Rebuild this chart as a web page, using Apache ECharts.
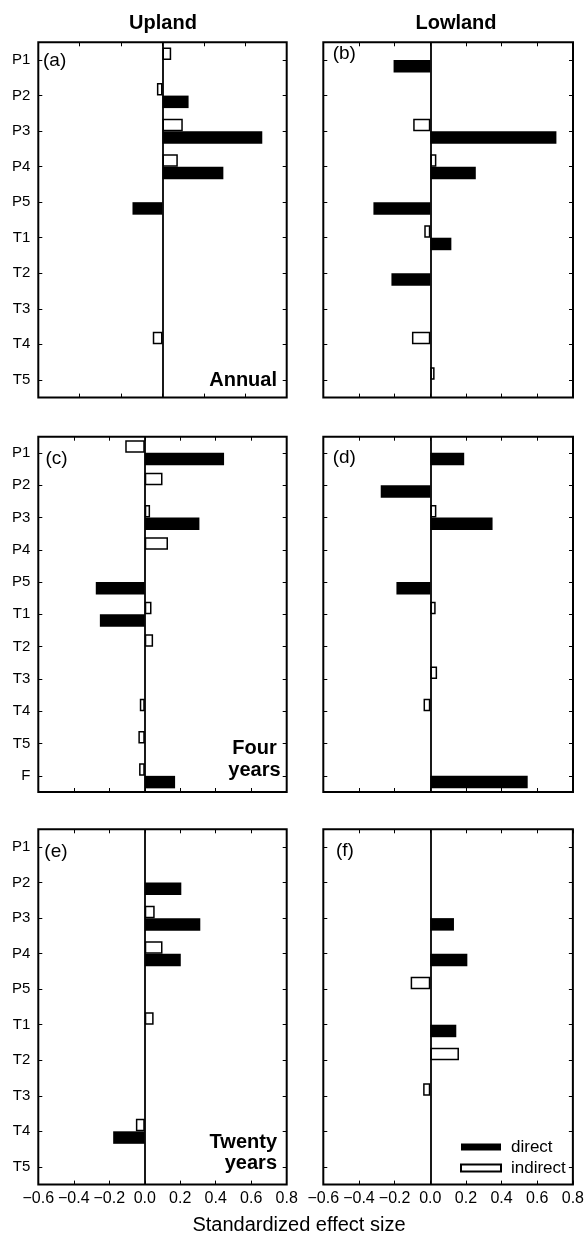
<!DOCTYPE html>
<html>
<head>
<meta charset="utf-8">
<script src="https://cdn.jsdelivr.net/npm/echarts@6/dist/echarts.min.js"></script>
<style>
  html, body { margin: 0; padding: 0; background: #fff; }
  #chart { width: 587px; height: 1235px; }
</style>
</head>
<body>
<div id="chart"></div>
<script>
// categories
const catsShort = ['P1', 'P2', 'P3', 'P4', 'P5', 'T1', 'T2', 'T3', 'T4', 'T5'];
const catsLong = ['P1', 'P2', 'P3', 'P4', 'P5', 'T1', 'T2', 'T3', 'T4', 'T5', 'F'];

// x axis ranges (ticks every 0.2)
const rangeNarrow = [-0.6, 0.6];
const rangeWide = [-0.6, 0.8];
const tickStep = 0.2;

// (a) upland, annual
const upAnnualIndirect = [0.042, -0.027, 0.098, 0.074, null, null, null, null, -0.047, null];
const upAnnualDirect   = [null, 0.126, 0.482, 0.294, -0.145, null, null, null, null, null];
// (b) lowland, annual
const lowAnnualIndirect = [null, null, -0.096, 0.034, null, -0.034, null, null, -0.103, 0.024];
const lowAnnualDirect   = [-0.206, null, 0.707, 0.255, -0.319, 0.118, -0.218, null, null, null];
// (c) upland, four years
const upFourIndirect = [-0.11, 0.10, 0.03, 0.131, null, 0.038, 0.047, null, -0.028, -0.036, -0.032];
const upFourDirect   = [0.447, null, 0.308, null, -0.276, -0.253, null, null, null, null, 0.171];
// (d) lowland, four years
const lowFourIndirect = [null, null, 0.034, null, null, 0.03, null, 0.038, -0.038, null, null];
const lowFourDirect   = [0.19, -0.278, 0.349, null, -0.19, null, null, null, null, null, 0.546];
// (e) upland, twenty years
const upTwentyIndirect = [null, null, 0.056, 0.10, null, 0.05, null, null, -0.05, null];
const upTwentyDirect   = [null, 0.206, 0.313, 0.203, null, null, null, null, -0.178, null];
// (f) lowland, twenty years
const lowTwentyIndirect = [null, null, null, null, -0.11, null, 0.161, -0.04, null, null];
const lowTwentyDirect   = [null, null, 0.133, 0.208, null, 0.146, null, null, null, null];

const FONT = '"Liberation Sans", Arial, sans-serif';

const LEFT_X = 38.3, LEFT_W = 248.4;
const RIGHT_X = 323.3, RIGHT_W = 249.7;
const ROW_H = 355.3;

const panels = [
  { cats: catsShort, ind: upAnnualIndirect, dir: upAnnualDirect, range: rangeNarrow,
    left: LEFT_X, width: LEFT_W, top: 42.3, letter: '(a)', lx: 43, ly: 62.5, yLabels: true, xLabels: false },
  { cats: catsShort, ind: lowAnnualIndirect, dir: lowAnnualDirect, range: rangeWide,
    left: RIGHT_X, width: RIGHT_W, top: 42.3, letter: '(b)', lx: 332.7, ly: 55, yLabels: false, xLabels: false },
  { cats: catsLong, ind: upFourIndirect, dir: upFourDirect, range: rangeWide,
    left: LEFT_X, width: LEFT_W, top: 436.7, letter: '(c)', lx: 45.5, ly: 460, yLabels: true, xLabels: false },
  { cats: catsLong, ind: lowFourIndirect, dir: lowFourDirect, range: rangeWide,
    left: RIGHT_X, width: RIGHT_W, top: 436.7, letter: '(d)', lx: 332.7, ly: 459, yLabels: false, xLabels: false },
  { cats: catsShort, ind: upTwentyIndirect, dir: upTwentyDirect, range: rangeWide,
    left: LEFT_X, width: LEFT_W, top: 829.3, letter: '(e)', lx: 44.3, ly: 853, yLabels: true, xLabels: true },
  { cats: catsShort, ind: lowTwentyIndirect, dir: lowTwentyDirect, range: rangeWide,
    left: RIGHT_X, width: RIGHT_W, top: 829.3, letter: '(f)', lx: 336, ly: 852.5, yLabels: false, xLabels: true }
];

const grid = [], xAxis = [], yAxis = [], series = [], graphic = [];
const tick = { show: true, inside: true, length: 4, lineStyle: { color: '#000', width: 1 } };

panels.forEach((p, i) => {
  grid.push({ left: p.left, top: p.top, width: p.width, height: ROW_H,
    show: true, borderColor: '#000', borderWidth: 2, backgroundColor: 'transparent' });

  const xBase = { gridIndex: i, type: 'value', min: p.range[0], max: p.range[1], interval: tickStep,
    axisLine: { show: false }, axisTick: tick, splitLine: { show: false } };
  xAxis.push(Object.assign({}, xBase, {
    position: 'bottom',
    axisLabel: { show: p.xLabels, color: '#000', fontSize: 16, fontFamily: FONT, margin: 6,
      formatter: v => v.toFixed(1).replace('-', '\u2212') }
  }));
  xAxis.push(Object.assign({}, xBase, { position: 'top', axisLabel: { show: false } }));

  const yBase = { gridIndex: i, type: 'category', data: p.cats, inverse: true,
    axisLine: { show: false, onZero: false },
    axisTick: Object.assign({ alignWithLabel: true }, tick), splitLine: { show: false } };
  yAxis.push(Object.assign({}, yBase, {
    position: 'left',
    axisLabel: { show: p.yLabels, color: '#000', fontSize: 15, fontFamily: FONT, margin: 8 }
  }));
  yAxis.push(Object.assign({}, yBase, { position: 'right', axisLabel: { show: false } }));

  series.push({
    name: 'indirect', type: 'bar', xAxisIndex: 2 * i, yAxisIndex: 2 * i,
    data: p.ind, barWidth: 12.5, barGap: '0%',
    itemStyle: { color: '#fff', borderColor: '#000', borderWidth: 1.5 }
  });
  series.push({
    name: 'direct', type: 'bar', xAxisIndex: 2 * i, yAxisIndex: 2 * i,
    data: p.dir, barWidth: 12.5, barGap: '0%',
    itemStyle: { color: '#000' },
    markLine: { silent: true, symbol: 'none', label: { show: false },
      lineStyle: { color: '#000', width: 1.8, type: 'solid' }, data: [{ xAxis: 0 }] }
  });

  graphic.push({ type: 'text', left: p.lx, top: p.ly - 11,
    style: { text: p.letter, fill: '#000', font: '19px ' + FONT } });
});

const boldText = (x, y, text, align) => ({
  type: 'text', x: x, y: y,
  style: { text: text, fill: '#000', font: 'bold 20px ' + FONT, textAlign: align, textVerticalAlign: 'middle' }
});

graphic.push(boldText(163, 23, 'Upland', 'center'));
graphic.push(boldText(456, 23, 'Lowland', 'center'));
graphic.push(boldText(277, 380, 'Annual', 'right'));
graphic.push(boldText(254.5, 748.5, 'Four', 'center'));
graphic.push(boldText(254.5, 770.5, 'years', 'center'));
graphic.push(boldText(277, 1142, 'Twenty', 'right'));
graphic.push(boldText(277, 1163.5, 'years', 'right'));
graphic.push({ type: 'text', x: 299, y: 1225.5,
  style: { text: 'Standardized effect size', fill: '#000', font: '20px ' + FONT,
    textAlign: 'center', textVerticalAlign: 'middle' } });

const chart = echarts.init(document.getElementById('chart'));
chart.setOption({
  animation: false,
  backgroundColor: '#fff',
  grid: grid,
  xAxis: xAxis,
  yAxis: yAxis,
  legend: {
    data: ['direct', 'indirect'],
    orient: 'vertical', left: 460, top: 1138.5, padding: 0,
    icon: 'rect', itemWidth: 40, itemHeight: 7, itemGap: 4,
    selectedMode: false,
    textStyle: { color: '#000', fontSize: 17, fontFamily: FONT, padding: [0, 0, 0, 5] }
  },
  series: series,
  graphic: graphic
});
</script>
</body>
</html>
